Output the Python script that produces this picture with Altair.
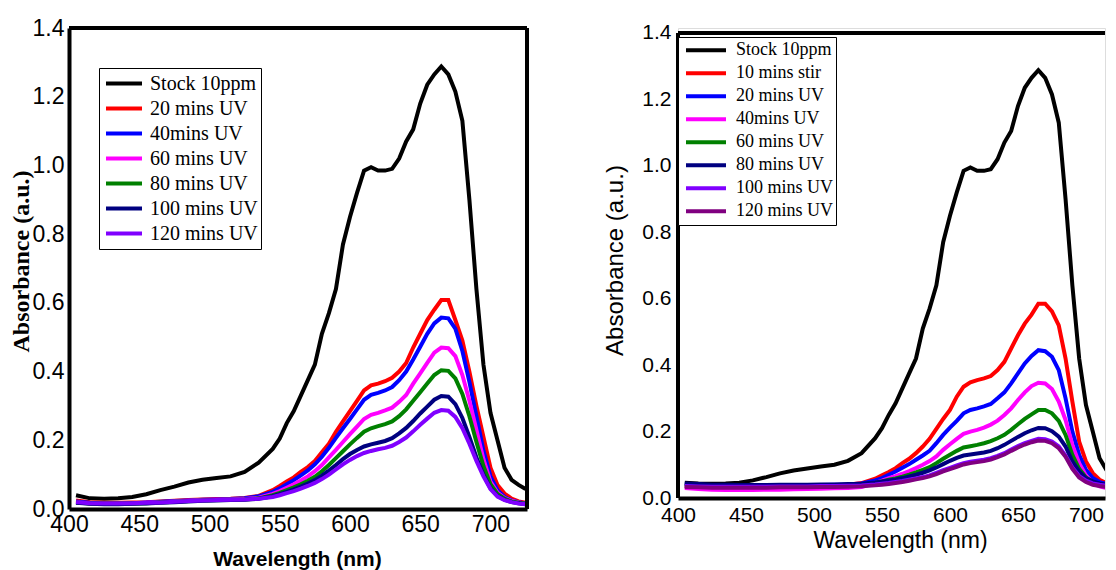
import altair as alt
import pandas as pd

# ---------------- data ----------------
wavelength = [405, 415, 425, 435, 445, 455, 465, 475, 485, 495, 505, 515, 525, 535, 545,
              550, 555, 560, 565, 570, 575, 580, 585, 590, 595, 600, 605, 610, 615, 620,
              625, 630, 635, 640, 645, 650, 655, 660, 665, 670, 675, 680, 685, 690, 695,
              700, 705, 710, 715, 720, 725]

# Left panel
left_names = ["Stock 10ppm", "20 mins UV", "40mins UV", "60 mins UV",
              "80 mins UV", "100 mins UV", "120 mins UV"]
left_colors = ["#000000", "#ff0000", "#0000ff", "#ff00ff", "#008000", "#000080", "#8000ff"]

L_stock = [0.040, 0.031, 0.030, 0.031, 0.035, 0.043, 0.055, 0.065, 0.077, 0.085, 0.090, 0.095, 0.108, 0.135, 0.175,
           0.205, 0.250, 0.285, 0.330, 0.375, 0.420, 0.510, 0.570, 0.640, 0.770, 0.850, 0.920, 0.985, 0.995, 0.985,
           0.985, 0.990, 1.020, 1.070, 1.105, 1.180, 1.235, 1.265, 1.288, 1.265, 1.215, 1.130, 0.900, 0.640, 0.420,
           0.280, 0.200, 0.120, 0.085, 0.070, 0.058]
L_20 = [0.025, 0.020, 0.018, 0.018, 0.019, 0.020, 0.022, 0.024, 0.026, 0.028, 0.029, 0.030, 0.032, 0.038, 0.055,
        0.067, 0.080, 0.092, 0.108, 0.122, 0.140, 0.165, 0.190, 0.225, 0.255, 0.285, 0.315, 0.345, 0.360, 0.365,
        0.372, 0.382, 0.400, 0.425, 0.470, 0.510, 0.550, 0.580, 0.608, 0.608, 0.550, 0.490, 0.400, 0.300, 0.210,
        0.120, 0.070, 0.045, 0.030, 0.022, 0.018]
L_40 = [0.022, 0.018, 0.016, 0.016, 0.017, 0.019, 0.021, 0.023, 0.025, 0.027, 0.028, 0.029, 0.031, 0.037, 0.050,
        0.060, 0.072, 0.084, 0.098, 0.112, 0.130, 0.152, 0.178, 0.207, 0.235, 0.262, 0.290, 0.318, 0.332, 0.338,
        0.345, 0.355, 0.375, 0.400, 0.435, 0.472, 0.510, 0.540, 0.557, 0.555, 0.525, 0.460, 0.370, 0.270, 0.170,
        0.095, 0.055, 0.035, 0.025, 0.020, 0.016]
L_60 = [0.020, 0.016, 0.015, 0.015, 0.016, 0.018, 0.020, 0.022, 0.024, 0.026, 0.027, 0.028, 0.029, 0.033, 0.044,
        0.052, 0.062, 0.072, 0.083, 0.095, 0.110, 0.128, 0.150, 0.172, 0.195, 0.218, 0.240, 0.262, 0.274, 0.280,
        0.287, 0.295, 0.312, 0.332, 0.365, 0.395, 0.425, 0.455, 0.470, 0.468, 0.445, 0.390, 0.315, 0.230, 0.145,
        0.080, 0.048, 0.032, 0.024, 0.019, 0.015]
L_80 = [0.019, 0.016, 0.015, 0.015, 0.016, 0.017, 0.019, 0.021, 0.023, 0.025, 0.026, 0.027, 0.028, 0.031, 0.040,
        0.047, 0.055, 0.063, 0.072, 0.082, 0.094, 0.110, 0.128, 0.148, 0.168, 0.188, 0.207, 0.225, 0.235, 0.241,
        0.247, 0.255, 0.270, 0.290, 0.315, 0.340, 0.365, 0.390, 0.404, 0.402, 0.380, 0.335, 0.270, 0.195, 0.125,
        0.072, 0.044, 0.030, 0.022, 0.018, 0.015]
L_100 = [0.018, 0.015, 0.014, 0.014, 0.015, 0.016, 0.018, 0.020, 0.022, 0.024, 0.025, 0.026, 0.027, 0.030, 0.037,
         0.043, 0.050, 0.057, 0.065, 0.074, 0.084, 0.097, 0.112, 0.128, 0.145, 0.160, 0.172, 0.182, 0.188, 0.193,
         0.198, 0.206, 0.220, 0.236, 0.256, 0.278, 0.298, 0.318, 0.329, 0.327, 0.305, 0.265, 0.210, 0.150, 0.100,
         0.060, 0.038, 0.027, 0.020, 0.017, 0.014]
L_120 = [0.020, 0.017, 0.016, 0.016, 0.017, 0.018, 0.019, 0.021, 0.023, 0.025, 0.026, 0.027, 0.028, 0.030, 0.035,
         0.040, 0.046, 0.052, 0.059, 0.067, 0.076, 0.087, 0.100, 0.115, 0.130, 0.143, 0.154, 0.163, 0.169, 0.174,
         0.178, 0.184, 0.195, 0.208, 0.226, 0.245, 0.263, 0.280, 0.288, 0.286, 0.268, 0.235, 0.190, 0.140, 0.095,
         0.058, 0.036, 0.026, 0.020, 0.016, 0.014]

# Right panel
right_names = ["Stock 10ppm", "10 mins stir", "20 mins UV", "40mins UV", "60 mins UV",
               "80 mins UV", "100 mins UV", "120 mins UV"]
right_colors = ["#000000", "#ff0000", "#0000ff", "#ff00ff", "#008000", "#000080", "#8000ff", "#800080"]

R_stock = [0.046, 0.044, 0.043, 0.044, 0.046, 0.053, 0.063, 0.074, 0.083, 0.089, 0.095, 0.100, 0.112, 0.135, 0.180,
           0.210, 0.250, 0.285, 0.330, 0.375, 0.420, 0.510, 0.570, 0.640, 0.770, 0.850, 0.920, 0.985, 0.995, 0.985,
           0.985, 0.990, 1.020, 1.070, 1.105, 1.180, 1.235, 1.265, 1.288, 1.265, 1.215, 1.130, 0.900, 0.640, 0.420,
           0.280, 0.200, 0.120, 0.085, 0.070, 0.060]
R_stir = [0.035, 0.032, 0.030, 0.030, 0.031, 0.032, 0.033, 0.034, 0.035, 0.036, 0.037, 0.038, 0.040, 0.045, 0.058,
          0.068, 0.078, 0.090, 0.105, 0.118, 0.135, 0.155, 0.178, 0.208, 0.238, 0.265, 0.305, 0.335, 0.348, 0.355,
          0.360, 0.367, 0.385, 0.410, 0.450, 0.490, 0.525, 0.552, 0.585, 0.585, 0.562, 0.520, 0.420, 0.290, 0.170,
          0.110, 0.075, 0.055, 0.045, 0.040, 0.036]
R_20 = [0.042, 0.040, 0.038, 0.037, 0.037, 0.037, 0.037, 0.038, 0.038, 0.039, 0.039, 0.040, 0.041, 0.044, 0.053,
        0.060, 0.070, 0.080, 0.091, 0.102, 0.115, 0.128, 0.142, 0.165, 0.190, 0.212, 0.232, 0.255, 0.265, 0.270,
        0.276, 0.283, 0.300, 0.318, 0.345, 0.375, 0.405, 0.428, 0.445, 0.442, 0.425, 0.385, 0.300, 0.200, 0.130,
        0.085, 0.060, 0.048, 0.042, 0.039, 0.036]
R_40 = [0.030, 0.027, 0.025, 0.024, 0.024, 0.024, 0.025, 0.025, 0.026, 0.027, 0.028, 0.029, 0.030, 0.033, 0.045,
        0.052, 0.060, 0.066, 0.073, 0.081, 0.090, 0.100, 0.111, 0.125, 0.145, 0.162, 0.178, 0.193, 0.200, 0.205,
        0.212, 0.221, 0.233, 0.250, 0.270, 0.295, 0.318, 0.337, 0.347, 0.345, 0.328, 0.290, 0.235, 0.160, 0.105,
        0.068, 0.045, 0.035, 0.030, 0.027, 0.025]
R_60 = [0.038, 0.036, 0.035, 0.034, 0.034, 0.034, 0.034, 0.035, 0.035, 0.036, 0.036, 0.037, 0.038, 0.040, 0.046,
        0.050, 0.055, 0.059, 0.064, 0.070, 0.077, 0.085, 0.093, 0.105, 0.118, 0.130, 0.142, 0.152, 0.156, 0.160,
        0.165, 0.171, 0.180, 0.190, 0.205, 0.222, 0.238, 0.252, 0.265, 0.265, 0.255, 0.232, 0.190, 0.130, 0.088,
        0.062, 0.048, 0.041, 0.038, 0.036, 0.034]
R_80 = [0.044, 0.042, 0.040, 0.040, 0.039, 0.039, 0.039, 0.040, 0.040, 0.040, 0.041, 0.041, 0.042, 0.043, 0.047,
        0.050, 0.053, 0.056, 0.060, 0.065, 0.070, 0.076, 0.083, 0.092, 0.102, 0.112, 0.121, 0.128, 0.131, 0.134,
        0.137, 0.142, 0.150, 0.160, 0.172, 0.184, 0.195, 0.204, 0.211, 0.210, 0.201, 0.185, 0.155, 0.110, 0.080,
        0.060, 0.050, 0.044, 0.040, 0.038, 0.036]
R_100 = [0.036, 0.035, 0.034, 0.034, 0.034, 0.034, 0.034, 0.035, 0.035, 0.035, 0.036, 0.036, 0.037, 0.038, 0.041,
         0.043, 0.045, 0.048, 0.051, 0.055, 0.059, 0.063, 0.068, 0.076, 0.084, 0.091, 0.098, 0.105, 0.109, 0.112,
         0.115, 0.120, 0.127, 0.135, 0.146, 0.156, 0.165, 0.172, 0.178, 0.177, 0.170, 0.155, 0.128, 0.092, 0.066,
         0.052, 0.044, 0.040, 0.037, 0.035, 0.033]
R_120 = [0.033, 0.032, 0.031, 0.031, 0.031, 0.031, 0.031, 0.032, 0.032, 0.032, 0.033, 0.033, 0.034, 0.035, 0.038,
         0.040, 0.042, 0.045, 0.048, 0.052, 0.056, 0.060, 0.065, 0.072, 0.080, 0.087, 0.094, 0.101, 0.105, 0.108,
         0.111, 0.116, 0.123, 0.131, 0.142, 0.152, 0.161, 0.168, 0.173, 0.172, 0.165, 0.150, 0.124, 0.088, 0.062,
         0.048, 0.040, 0.036, 0.033, 0.031, 0.030]

y_ticks = [0.0, 0.2, 0.4, 0.6, 0.8, 1.0, 1.2, 1.4]
x_ticks = [400, 450, 500, 550, 600, 650, 700]
x_min, x_max = 400, 726
x_max_right = 714   # right panel is cut off at the page edge in the original
y_min, y_max = 0.0, 1.4


def long_df(names, series):
    rows = []
    for i, (n, vals) in enumerate(zip(names, series)):
        assert len(vals) == len(wavelength), n
        for w, a in zip(wavelength, vals):
            rows.append({"wl": w, "A": a, "sample": n, "k": i})
    return pd.DataFrame(rows)


left_df = long_df(left_names, [L_stock, L_20, L_40, L_60, L_80, L_100, L_120])
right_df = long_df(right_names, [R_stock, R_stir, R_20, R_40, R_60, R_80, R_100, R_120])

SANS = "Liberation Sans"
SERIF = "Liberation Serif"

# ---------------- left panel ----------------
LW, LH = 458, 481
lx = alt.Scale(domain=[x_min, x_max], nice=False, zero=False)
ly = alt.Scale(domain=[y_min, y_max], nice=False, zero=True)

left_lines = alt.Chart(left_df).mark_line(strokeWidth=4, clip=True).encode(
    x=alt.X("wl:Q", scale=lx, axis=alt.Axis(
        values=x_ticks, format="d", labelFont=SANS, labelFontSize=23, labelColor="black",
        labelPadding=4, labelFlush=False, ticks=False, tickSize=0, grid=False,
        domainColor="black", domainWidth=4,
        title="Wavelength (nm)", titleFont=SANS, titleFontSize=21, titleFontWeight="bold",
        titleColor="black", titleX=228, titleY=50, titleBaseline="middle", titleAlign="center")),
    y=alt.Y("A:Q", scale=ly, axis=alt.Axis(
        values=y_ticks, format=".1f", labelFont=SANS, labelFontSize=23, labelColor="black",
        labelPadding=5, labelFlush=False, ticks=False, tickSize=0, grid=False,
        domainColor="black", domainWidth=4,
        title="Absorbance (a.u.)", titleFont=SERIF, titleFontSize=24, titleFontWeight="bold",
        titleColor="black", titleX=-48, titleY=233, titleBaseline="middle", titleAlign="center")),
    color=alt.Color("sample:N", scale=alt.Scale(domain=left_names, range=left_colors),
                    legend=alt.Legend(
                        title=None, orient="none", legendX=30, legendY=40,
                        symbolType="stroke", symbolSize=1296, symbolStrokeWidth=4,
                        symbolOffset=2, labelOffset=6, clipHeight=25, rowPadding=0,
                        padding=3, labelFont=SERIF, labelFontSize=20, labelColor="black",
                        strokeColor="black", fillColor="white")),
    order="k:Q",
)
left_top = alt.Chart(left_df).mark_rule(color="black", strokeWidth=3).encode(y=alt.datum(y_max))
left_right = alt.Chart(left_df).mark_rule(color="black", strokeWidth=3).encode(x=alt.datum(x_max))
left_panel = alt.layer(left_lines, left_top, left_right).properties(width=LW, height=LH)

# ---------------- right panel ----------------
RW, RH = 427, 470
rx = alt.Scale(domain=[x_min, x_max_right], nice=False, zero=False)
ry = alt.Scale(domain=[y_min, 1.415], nice=False, zero=True)

right_lines = alt.Chart(right_df).mark_line(strokeWidth=4, clip=True).encode(
    x=alt.X("wl:Q", scale=rx, axis=alt.Axis(
        values=x_ticks, format="d", labelFont=SANS, labelFontSize=21, labelColor="black",
        labelPadding=6, labelFlush=False, ticks=False, tickSize=0, grid=False,
        domainColor="black", domainWidth=4,
        title="Wavelength (nm)", titleFont=SANS, titleFontSize=23, titleFontWeight="normal",
        titleColor="black", titleX=222, titleY=42, titleBaseline="middle", titleAlign="center")),
    y=alt.Y("A:Q", scale=ry, axis=alt.Axis(
        values=y_ticks, format=".1f", labelFont=SANS, labelFontSize=21, labelColor="black",
        labelPadding=7, labelFlush=False, ticks=False, tickSize=0, grid=False,
        domain=False,
        title="Absorbance (a.u.)", titleFont=SANS, titleFontSize=24, titleFontWeight="normal",
        titleColor="black", titleX=-63, titleY=232, titleBaseline="middle", titleAlign="center")),
    color=alt.Color("sample:N", scale=alt.Scale(domain=right_names, range=right_colors),
                    legend=alt.Legend(
                        title=None, orient="none", legendX=0, legendY=9,
                        symbolType="stroke", symbolSize=1600, symbolStrokeWidth=4,
                        symbolOffset=4, labelOffset=8, clipHeight=22.7, rowPadding=0,
                        padding=2, labelFont=SERIF, labelFontSize=18, labelColor="black",
                        strokeColor="black", fillColor="white")),
    order="k:Q",
)
right_top = alt.Chart(right_df).mark_rule(color="black", strokeWidth=3).encode(
    y=alt.datum(y_max))
right_left = alt.Chart(right_df).mark_rule(color="black", strokeWidth=4).encode(
    x=alt.datum(x_min), y=alt.datum(y_min), y2=alt.datum(y_max))
right_panel = alt.layer(right_lines, right_top, right_left).properties(
    width=RW, height=RH)

chart = alt.hconcat(left_panel, right_panel, spacing=73).resolve_scale(
    color="independent", x="independent", y="independent"
).resolve_legend(color="independent").properties(
    padding={"left": 0, "top": 8, "right": 0, "bottom": 0}
).configure_view(stroke=None).configure(background="white")

chart.save("out.html", embed_options={"renderer": "svg", "actions": False})
